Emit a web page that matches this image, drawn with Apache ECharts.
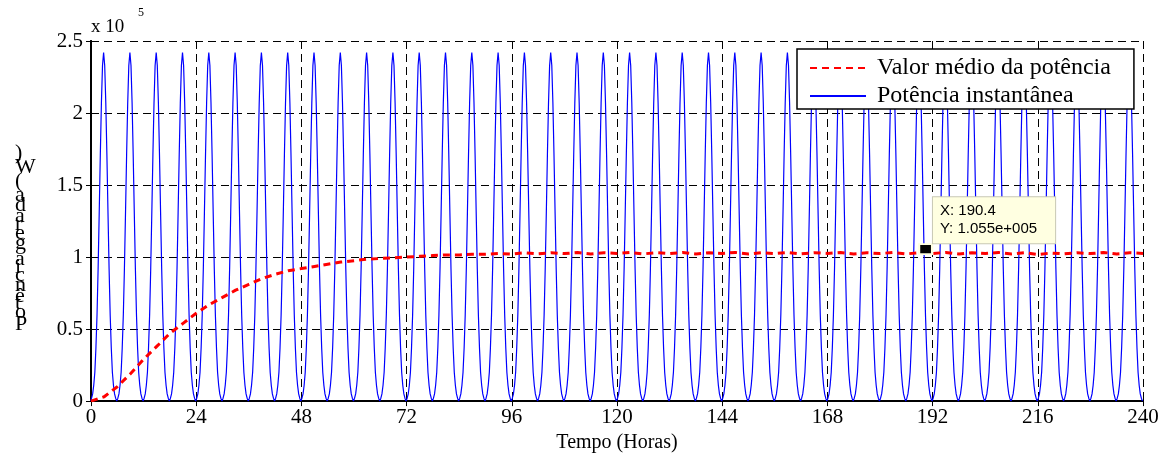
<!DOCTYPE html>
<html>
<head>
<meta charset="utf-8">
<script src="https://cdn.jsdelivr.net/npm/echarts@6/dist/echarts.min.js"></script>
<style>
  html, body { margin: 0; padding: 0; background: #fff; }
  #main { width: 1173px; height: 458px; }
</style>
</head>
<body>
<div id="main"></div>
<script>
// one 6-hour cycle of the instantaneous power (x 1e5 W, every 0.25 h)
const cycleLength = 6;
const cycleStep = 0.25;
const cycleProfile = [0, 0.02, 0.05, 0.11, 0.2, 0.37, 0.6, 0.92, 1.31, 1.71, 2.07, 2.33,
                      2.42, 2.33, 2.07, 1.71, 1.31, 0.92, 0.6, 0.37, 0.2, 0.11, 0.05, 0.02];
const cycleCount = 40;

// mean power (x 1e5 W), every 3 h from 0 to 240
const meanHours = [];
for (let h = 0; h <= 240; h += 3) meanHours.push(h);
const meanValues = [
  0, 0.03, 0.1, 0.19, 0.29, 0.38, 0.47, 0.54, 0.61, 0.67, 0.72, 0.77, 0.81, 0.85, 0.88, 0.905,
  0.92, 0.935, 0.95, 0.965, 0.975, 0.985, 0.99, 0.995, 1.0, 1.005, 1.01, 1.015, 1.015, 1.02, 1.02,
  1.025, 1.02, 1.03, 1.022, 1.03, 1.024, 1.032, 1.022, 1.03, 1.025, 1.032, 1.022, 1.03, 1.024,
  1.032, 1.022, 1.03, 1.025, 1.032, 1.022, 1.03, 1.024, 1.032, 1.022, 1.03, 1.025, 1.032, 1.022,
  1.03, 1.024, 1.032, 1.022, 1.03, 1.025, 1.032, 1.022, 1.03, 1.024, 1.032, 1.022, 1.03, 1.018,
  1.028, 1.022, 1.03, 1.024, 1.032, 1.022, 1.03, 1.025
];

const seriesNames = ['Valor médio da potência', 'Potência instantânea'];
const yAxisTitle = 'Potência gerada (W)';
const xAxisTitle = 'Tempo (Horas)';
const tipX = 190.4;
const tipY = 1.055e5;
const tipText = 'X: 190.4\nY: 1.055e+005';

const scale = 1e5;
const instData = [];
for (let k = 0; k < cycleCount; k++) {
  cycleProfile.forEach((v, i) => instData.push([k * cycleLength + i * cycleStep, v * scale]));
}
instData.push([cycleCount * cycleLength, 0]);
const meanData = meanHours.map((h, i) => [h, meanValues[i] * scale]);

const serif = "'Liberation Serif', 'Times New Roman', serif";

// y-axis title: glyphs laid along a rotated baseline but not rotated themselves
const yNameFont = '22px ' + serif;
const ctx = document.createElement('canvas').getContext('2d');
ctx.font = yNameFont;
const yNameChars = [];
let pen = 0;
for (const ch of yAxisTitle) {
  const w = ctx.measureText(ch).width;
  if (ch !== ' ') {
    yNameChars.push({
      type: 'text', left: 15, top: 330 - pen - w / 2 - 11,
      style: { text: ch, font: yNameFont, fill: '#000' }
    });
  }
  pen += w;
}

const myChart = echarts.init(document.getElementById('main'));
const axisLabelStyle = { color: '#000', fontSize: 21, fontFamily: serif };
const option = {
  animation: false,
  grid: { left: 91, right: 30, top: 41, bottom: 56, show: false },
  xAxis: [
    {
      type: 'value', min: 0, max: 240, interval: 24,
      name: xAxisTitle, nameLocation: 'middle', nameGap: 30,
      nameTextStyle: { color: '#000', fontSize: 20, fontFamily: serif },
      axisLine: { lineStyle: { color: '#000', width: 2 } },
      axisTick: { inside: true, length: 5, lineStyle: { color: '#000', width: 1 } },
      axisLabel: Object.assign({ margin: 6 }, axisLabelStyle),
      splitLine: { show: true, lineStyle: { color: '#000', type: [8, 5], width: 1 } }
    },
    {
      type: 'value', min: 0, max: 240, interval: 24, position: 'top',
      axisLine: { lineStyle: { color: '#000', width: 2 } },
      axisTick: { inside: true, length: 5, lineStyle: { color: '#000' } },
      axisLabel: { show: false }, splitLine: { show: false }
    }
  ],
  yAxis: [
    {
      type: 'value', min: 0, max: 2.5 * scale, interval: 0.5 * scale,
      axisLine: { show: true, lineStyle: { color: '#000', width: 2 } },
      axisTick: { show: true, inside: true, length: 5, lineStyle: { color: '#000' } },
      axisLabel: Object.assign({ margin: 8, formatter: v => String(v / scale) }, axisLabelStyle),
      splitLine: { show: true, lineStyle: { color: '#000', type: [8, 5], width: 1 } }
    },
    {
      type: 'value', min: 0, max: 2.5 * scale, interval: 0.5 * scale, position: 'right',
      axisLine: { show: true, lineStyle: { color: '#000', width: 2 } },
      axisTick: { show: true, inside: true, length: 5, lineStyle: { color: '#000' } },
      axisLabel: { show: false }, splitLine: { show: false }
    }
  ],
  legend: {
    orient: 'vertical', left: 797, top: 49,
    data: seriesNames,
    backgroundColor: '#fff', borderColor: '#000', borderWidth: 1.5,
    padding: [7, 23, 1, 12], itemGap: 4, itemWidth: 56, itemHeight: 14,
    itemStyle: { opacity: 0 },
    textStyle: { color: '#000', fontSize: 24, lineHeight: 24, fontFamily: serif, padding: [0, 0, 0, 6] }
  },
  graphic: [
    { type: 'text', left: 91, top: 18, style: { text: 'x 10', font: '19px ' + serif, fill: '#000' } },
    { type: 'text', left: 138, top: 7, style: { text: '5', font: '12px ' + serif, fill: '#000' } }
  ].concat(yNameChars),
  series: [
    {
      name: seriesNames[1], type: 'line', step: 'middle', data: instData,
      showSymbol: false, symbol: 'none', z: 2,
      lineStyle: { color: '#0000ff', width: 1.2 },
      itemStyle: { color: '#0000ff' },
      markPoint: {
        z: 6,
        symbol: 'rect', symbolSize: [13, 10],
        itemStyle: { color: '#000', borderColor: '#ffffe1', borderWidth: 2 },
        data: [{ coord: [tipX, tipY] }],
        label: {
          show: true, formatter: tipText, position: [15, -46],
          align: 'left', verticalAlign: 'top',
          color: '#000', fontSize: 15, lineHeight: 18, fontFamily: "'Liberation Sans', Arial, sans-serif",
          backgroundColor: '#ffffe1', borderColor: '#c8c8b4', borderWidth: 1,
          padding: [5, 18, 5, 7]
        }
      }
    },
    {
      name: seriesNames[0], type: 'line', data: meanData,
      showSymbol: false, symbol: 'none', z: 3,
      lineStyle: { color: '#ff0000', width: 3, type: [7, 5] },
      itemStyle: { color: '#ff0000' }
    }
  ]
};
myChart.setOption(option);
</script>
</body>
</html>
